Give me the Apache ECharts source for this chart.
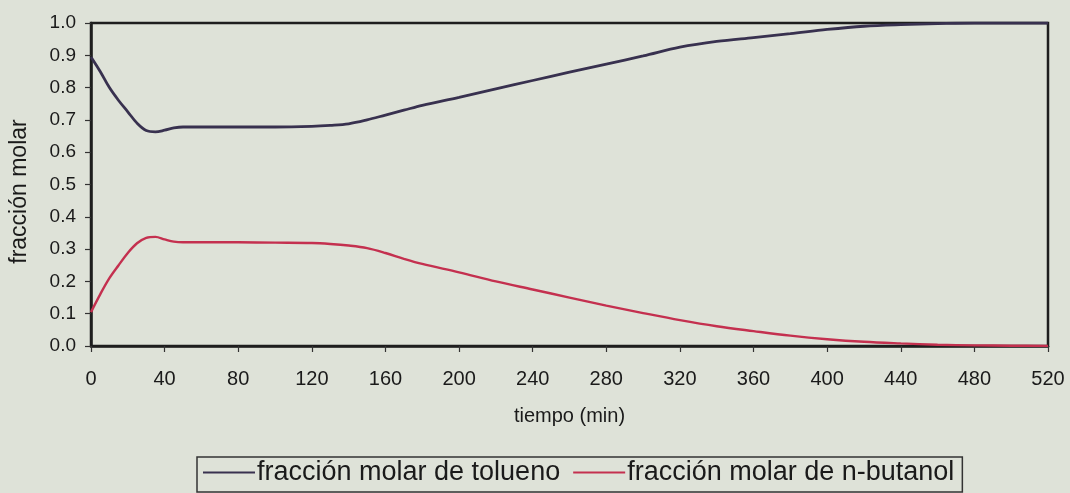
<!DOCTYPE html>
<html>
<head>
<meta charset="utf-8">
<script src="https://cdn.jsdelivr.net/npm/echarts@6/dist/echarts.min.js"></script>
<style>
html,body{margin:0;padding:0;background:#dee2d8;}
#c{width:1070px;height:493px;}
</style>
</head>
<body>
<div id="c"></div>
<script>
const tiempo = [0,5,10,15,20,25,30,35,40,45,50,60,80,100,120,130,140,150,160,170,180,200,220,240,260,280,300,320,340,360,380,400,420,440,460,480,500,520];
const tolueno = [0.895,0.85,0.80,0.76,0.725,0.69,0.667,0.663,0.668,0.675,0.678,0.678,0.678,0.678,0.68,0.683,0.688,0.70,0.715,0.73,0.745,0.77,0.796,0.822,0.848,0.873,0.898,0.925,0.943,0.955,0.967,0.98,0.99,0.995,0.998,1.0,1.0,1.0];
const butanol = [0.105,0.16,0.21,0.25,0.288,0.318,0.335,0.338,0.33,0.323,0.321,0.321,0.321,0.32,0.319,0.316,0.311,0.303,0.288,0.27,0.254,0.228,0.2,0.175,0.15,0.125,0.102,0.08,0.061,0.046,0.032,0.021,0.013,0.008,0.004,0.002,0.001,0.0];
const seriesNames = ['fracción molar de tolueno','fracción molar de n-butanol'];
const xTitle = 'tiempo (min)';
const yTitle = 'fracción molar';

const chart = echarts.init(document.getElementById('c'));
const font = 'Liberation Sans, Arial, sans-serif';
chart.setOption({
  backgroundColor: '#dee2d8',
  animation: false,
  grid: {left: 89, right: 22, top: 23, bottom: 147, show: true, borderColor: '#1e1e1e', borderWidth: 2.5, backgroundColor: 'transparent'},
  legend: {
    data: seriesNames,
    left: 197, top: 457,
    borderColor: '#333', borderWidth: 1.5, padding: [2, 8, 6, 6],
    itemWidth: 52, itemHeight: 10, itemGap: 13,
    icon: 'path://M0,4 L52,4 L52,6 L0,6 Z',
    textStyle: {fontFamily: font, fontSize: 27, color: '#1a1a1a', padding: [0,0,0,-3]}
  },
  xAxis: {
    type: 'value', min: 0, max: 520, interval: 40,
    name: xTitle, nameLocation: 'middle', nameGap: 60,
    nameTextStyle: {fontFamily: font, fontSize: 20, color: '#1a1a1a'},
    axisLine: {show: true, lineStyle: {color: '#1e1e1e', width: 2.5}},
    axisTick: {show: true, inside: false, length: 6, lineStyle: {color: '#333', width: 1.2}},
    axisLabel: {fontFamily: font, fontSize: 20, color: '#1a1a1a', margin: 23},
    splitLine: {show: false}
  },
  yAxis: {
    type: 'value', min: 0, max: 1, interval: 0.1,
    name: yTitle, nameLocation: 'middle', nameGap: 60, nameRotate: 90,
    nameTextStyle: {fontFamily: font, fontSize: 23, color: '#1a1a1a', padding: [0,0,0,-14]},
    axisLine: {show: true, lineStyle: {color: '#1e1e1e', width: 2.5}},
    axisTick: {show: true, inside: false, length: 6, lineStyle: {color: '#333', width: 1.2}},
    axisLabel: {fontFamily: font, fontSize: 19, color: '#1a1a1a', margin: 15, formatter: v => v.toFixed(1)},
    splitLine: {show: false}
  },
  series: [
    {name: seriesNames[0], type: 'line', smooth: 0.35, showSymbol: false,
     data: tiempo.map((t,i) => [t, tolueno[i]]),
     lineStyle: {color: '#38314f', width: 2.8}, itemStyle: {color: '#38314f'}},
    {name: seriesNames[1], type: 'line', smooth: 0.35, showSymbol: false,
     data: tiempo.map((t,i) => [t, butanol[i]]),
     lineStyle: {color: '#c4304f', width: 2.4}, itemStyle: {color: '#c4304f'}}
  ]
});
</script>
</body>
</html>
